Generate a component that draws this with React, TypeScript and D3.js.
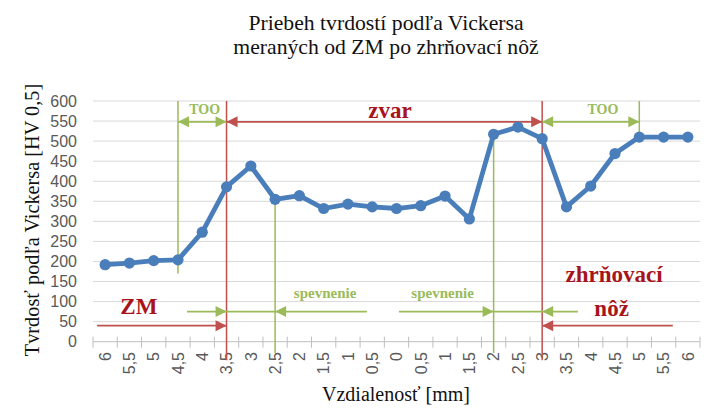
import React from "react";
import * as d3 from "d3";

const categories = ["6","5,5","5","4,5","4","3,5","3","2,5","2","1,5","1","0,5","0","0,5","1","1,5","2","2,5","3","3,5","4","4,5","5","5,5","6"];
const hardness = [192,196,202,204,273,386,438,355,364,332,343,336,332,339,363,306,517,535,506,336,388,469,510,510,510];
const yTicks = [0,50,100,150,200,250,300,350,400,450,500,550,600];

const title1 = "Priebeh tvrdostí podľa Vickersa";
const title2 = "meraných od ZM po zhrňovací nôž";
const yTitle = "Tvrdosť podľa Vickersa [HV 0,5]";
const xTitle = "Vzdialenosť [mm]";

// annotations in data coordinates (category index, hardness value)
const vLines = [
  { cat: 3, from: 600, to: 170, kind: "g" },
  { cat: 5, from: 600, to: -46, kind: "r" },
  { cat: 7, from: 355, to: -28, kind: "g" },
  { cat: 16, from: 517, to: -28, kind: "g" },
  { cat: 18, from: 600, to: -46, kind: "r" },
  { cat: 22, from: 600, to: 510, kind: "g" },
];
const hArrows = [
  { x1: 3, x2: 5, v: 548, kind: "g", heads: [[3, -1], [5, 1]] },
  { x1: 5, x2: 18, v: 548, kind: "r", heads: [[5, -1], [18, 1]] },
  { x1: 18, x2: 22, v: 548, kind: "g", heads: [[18, -1], [22, 1]] },
  { x1: -0.33, x2: 5, v: 40, kind: "r", heads: [[5, 1]] },
  { x1: 3.37, x2: 10.78, v: 75, kind: "g", heads: [[5, 1], [7, -1]] },
  { x1: 12.1, x2: 19.47, v: 75, kind: "g", heads: [[16, 1], [18, -1]] },
  { x1: 23.38, x2: 18, v: 40, kind: "r", heads: [[18, -1]] },
];
const labels = [
  { text: "TOO", cat: 4.1, v: 567, kind: "g", size: 14 },
  { text: "TOO", cat: 20.5, v: 567, kind: "g", size: 14 },
  { text: "zvar", cat: 11.73, v: 558, kind: "t", size: 23 },
  { text: "ZM", cat: 1.39, v: 68, kind: "t", size: 23 },
  { text: "spevnenie", cat: 9.06, v: 108, kind: "g", size: 15 },
  { text: "spevnenie", cat: 13.9, v: 108, kind: "g", size: 15 },
  { text: "zhrňovací", cat: 20.96, v: 149, kind: "t", size: 23 },
  { text: "nôž", cat: 20.86, v: 64, kind: "t", size: 23 },
];

const colors: Record<string, string> = { g: "#9bbb59", r: "#c0504d", t: "#a8141b" };
const blue = "#4a7ebb";

export default function App() {
  const W = 718, H = 416;
  const left = 93, right = 700, top = 101, bottom = 341.7;
  const band = d3.scaleBand<number>().domain(d3.range(categories.length)).range([left, right]).paddingInner(0).paddingOuter(0);
  const step = band.step();
  const xc = d3.scaleLinear().domain([0, categories.length - 1]).range([left + step / 2, right - step / 2]);
  const y = d3.scaleLinear().domain([0, 600]).range([bottom, top]);
  const line = d3.line<number>().x((_, i) => xc(i)).y((d) => y(d));
  const serif = "'Liberation Serif', 'Times New Roman', serif";
  const sans = "'Liberation Sans', Arial, sans-serif";

  const head = (x: number, yy: number, dir: number, color: string, key: string) => {
    const L = 11, h = 5.5;
    return <path key={key} d={`M${x},${yy} L${x - dir * L},${yy - h} L${x - dir * L},${yy + h} Z`} fill={color} />;
  };

  return (
    <div style={{ position: "absolute", left: 0, top: 0 }}>
      <svg width={W} height={H} style={{ display: "block", background: "#fff" }}>
        <rect width={W} height={H} fill="#fff" />
        <text x={386} y={30} textAnchor="middle" fontFamily={serif} fontSize={21.7} fill="#111">{title1}</text>
        <text x={386} y={54} textAnchor="middle" fontFamily={serif} fontSize={21.7} fill="#111">{title2}</text>

        {yTicks.map((t) => (
          <g key={t}>
            {t > 0 && <line x1={left} x2={right} y1={y(t)} y2={y(t)} stroke="#d9d9d9" strokeWidth={1} />}
            <text x={77} y={y(t)} dy="0.36em" textAnchor="end" fontFamily={sans} fontSize={16} fill="#595959">{t}</text>
          </g>
        ))}
        <line x1={left} x2={right} y1={bottom} y2={bottom} stroke="#bfbfbf" strokeWidth={1} />
        {d3.range(categories.length + 1).map((i) => (
          <line key={i} x1={left + i * step} x2={left + i * step} y1={bottom - 5} y2={bottom + 6} stroke="#bfbfbf" strokeWidth={1} />
        ))}
        {categories.map((c, i) => (
          <text key={i} transform={`translate(${xc(i)},352) rotate(-90)`} dy="0.36em" textAnchor="end" fontFamily={sans} fontSize={16} fill="#595959">{c}</text>
        ))}

        {vLines.map((l, i) => (
          <line key={i} x1={xc(l.cat)} x2={xc(l.cat)} y1={y(l.from)} y2={y(l.to)} stroke={colors[l.kind]} strokeWidth={1.5} />
        ))}
        {hArrows.map((a, i) => (
          <g key={i}>
            <line x1={xc(a.x1)} x2={xc(a.x2)} y1={y(a.v)} y2={y(a.v)} stroke={colors[a.kind]} strokeWidth={1.8} />
            {a.heads.map((h, j) => head(xc(h[0]), y(a.v), h[1], colors[a.kind], `${i}-${j}`))}
          </g>
        ))}
        {labels.map((l, i) => (
          <text key={i} x={xc(l.cat)} y={y(l.v)} textAnchor="middle" fontFamily={serif} fontWeight="bold" fontSize={l.size} fill={colors[l.kind]}>{l.text}</text>
        ))}

        <path d={line(hardness) || ""} fill="none" stroke={blue} strokeWidth={4.8} strokeLinejoin="round" />
        {hardness.map((v, i) => (
          <circle key={i} cx={xc(i)} cy={y(v)} r={5.6} fill={blue} />
        ))}

        <text transform={`translate(39,220) rotate(-90)`} textAnchor="middle" fontFamily={serif} fontSize={20.3} fill="#111">{yTitle}</text>
        <text x={396} y={401} textAnchor="middle" fontFamily={serif} fontSize={20} fill="#111">{xTitle}</text>
      </svg>
    </div>
  );
}
